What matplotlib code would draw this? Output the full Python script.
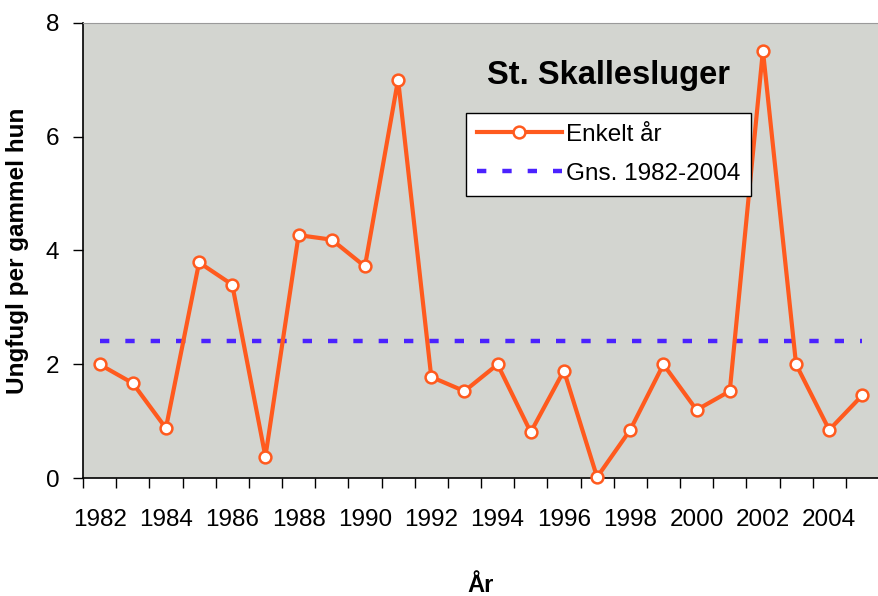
import numpy as np
import matplotlib
matplotlib.use("Agg")
import matplotlib.pyplot as plt

plt.rcParams['font.family'] = ['Liberation Sans', 'DejaVu Sans']

# data
years = np.arange(1982, 2006)
unger = [2.0, 1.67, 0.88, 3.79, 3.40, 0.38, 4.27, 4.19, 3.72, 7.0,
         1.78, 1.53, 2.0, 0.81, 1.89, 0.02, 0.85, 2.0, 1.2, 1.53,
         7.51, 2.0, 0.85, 1.46]
gns = 2.41
title = "St. Skallesluger"
ylab = "Ungfugl per gammel hun"
xlab = "År"

orange = '#FF5A1E'
blue = '#4B22FF'

fig = plt.figure(figsize=(8.79, 5.96), dpi=100)
ax = fig.add_axes([83/879, 1 - 478.3/596, 1 - 83/879, (478.3 - 22.7)/596])
ax.set_facecolor('#D3D5D0')

ax.plot(years, [gns]*len(years), color=blue, lw=3.2, dashes=(2.1, 3.6),
        label='Gns. 1982-2004', zorder=2)
ax.plot(years, unger, color=orange, lw=3, marker='o', ms=8.5,
        mfc='white', mec=orange, mew=1.8, label='Enkelt år', zorder=3,
        clip_on=False)

ax.set_xlim(1981.5, 2005.22)
ax.set_ylim(0, 8)
ax.set_yticks([0, 2, 4, 6, 8])
ax.set_xticks(np.arange(1982, 2006, 2))
ax.set_xticks(np.arange(1981.5, 2006, 1), minor=True)
ax.tick_params(axis='x', which='major', length=0, pad=22, labelsize=17.5)
ax.tick_params(axis='x', which='minor', length=7, width=1, direction='out')
ax.tick_params(axis='y', length=7, width=1, pad=10, labelsize=17.5)

ax.spines['right'].set_visible(False)
ax.spines['top'].set_color('#9a9a9a')
ax.spines['left'].set_linewidth(1.2)
ax.spines['bottom'].set_linewidth(1.2)

ax.set_ylabel(ylab, fontsize=17.5, fontweight='bold', labelpad=12)
ax.set_xlabel(xlab, fontsize=17, fontweight='bold', labelpad=31)

ax.text(0.66, 0.885, title, transform=ax.transAxes, fontsize=23.5,
        fontweight='bold', ha='center', va='center')

h, l = ax.get_legend_handles_labels()
leg = ax.legend(h[::-1], l[::-1], loc='upper left', bbox_to_anchor=(0.481, 0.802),
                fontsize=17.5, frameon=True, fancybox=False, framealpha=1,
                edgecolor='black', handlelength=3.5, handletextpad=0.15,
                borderpad=0.45, labelspacing=0.7, borderaxespad=0)
leg.get_frame().set_linewidth(1)

fig.savefig('out.png', dpi=100)
